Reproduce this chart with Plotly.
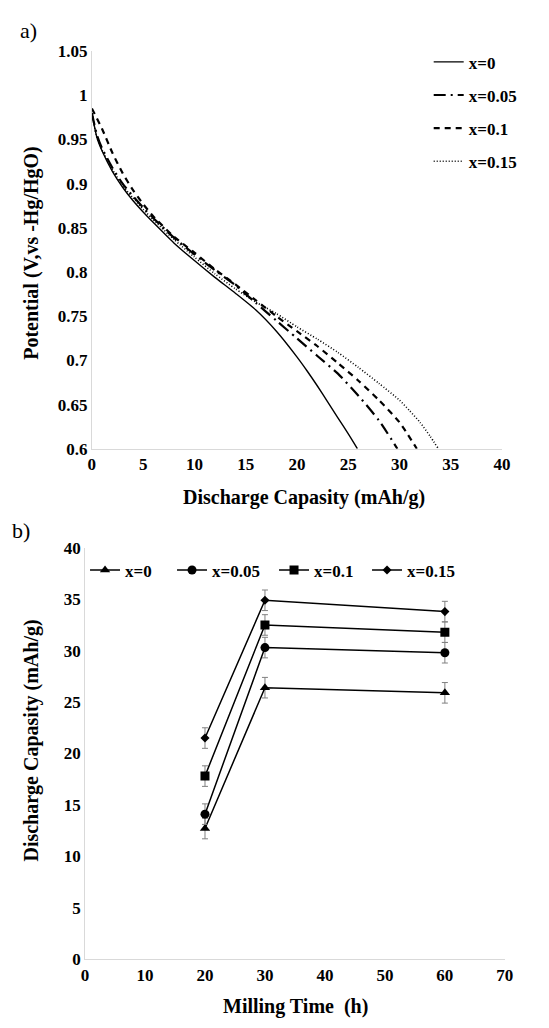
import plotly.graph_objects as go

# ---------- Panel a data: discharge curves ----------
cap_x0 = [0, 0.5, 1, 2, 3, 4, 5, 6, 8, 10, 12, 14, 16, 18, 20, 21, 22, 23, 24, 25, 25.9]
pot_x0 = [0.98, 0.952, 0.937, 0.914, 0.896, 0.881, 0.868, 0.856, 0.833, 0.813, 0.794, 0.776, 0.757, 0.733, 0.704, 0.688, 0.671, 0.653, 0.635, 0.617, 0.6]

cap_x005 = [0, 0.5, 1, 2, 3, 4, 5, 6, 8, 10, 12, 14, 16, 18, 20, 22, 24, 26, 28, 29.8]
pot_x005 = [0.98, 0.955, 0.94, 0.918, 0.9, 0.886, 0.873, 0.861, 0.839, 0.82, 0.802, 0.785, 0.765, 0.745, 0.725, 0.705, 0.685, 0.66, 0.632, 0.6]

cap_x01 = [0, 1, 2, 3, 4, 5, 6, 8, 10, 12, 14, 16, 18, 20, 22, 24, 26, 28, 30, 31.7]
pot_x01 = [0.985, 0.962, 0.935, 0.912, 0.893, 0.877, 0.863, 0.84, 0.822, 0.803, 0.786, 0.768, 0.75, 0.733, 0.716, 0.697, 0.677, 0.655, 0.63, 0.6]

cap_x015 = [0, 0.5, 1, 2, 3, 4, 5, 6, 8, 10, 12, 14, 16, 18, 20, 22, 24, 26, 28, 30, 31, 32, 33, 33.8]
pot_x015 = [0.98, 0.952, 0.938, 0.916, 0.898, 0.884, 0.871, 0.859, 0.837, 0.817, 0.798, 0.781, 0.766, 0.753, 0.738, 0.724, 0.709, 0.692, 0.674, 0.655, 0.643, 0.63, 0.614, 0.6]

# ---------- Panel b data: capacity vs milling time ----------
milling_time = [20, 30, 60]
cap_b_x0 = [12.7, 26.4, 25.9]
cap_b_x005 = [14.1, 30.3, 29.8]
cap_b_x01 = [17.8, 32.5, 31.8]
cap_b_x015 = [21.5, 34.9, 33.8]
err_b = [1.0, 1.0, 1.0]

labels = ["x=0", "x=0.05", "x=0.1", "x=0.15"]

FONT = "Liberation Serif, Times New Roman, serif"
W, H = 549, 1028

fig = go.Figure()

# panel a traces
styles_a = [
    (cap_x0, pot_x0, "solid", 1.4),
    (cap_x005, pot_x005, "12px,5px,2px,5px", 2.2),
    (cap_x01, pot_x01, "6px,5px", 2.2),
    (cap_x015, pot_x015, "1px,2px", 1.6),
]
for i, (xs, ys, dash, w) in enumerate(styles_a):
    fig.add_trace(go.Scatter(
        x=xs, y=ys, mode="lines", name=labels[i],
        line=dict(color="black", width=w, dash=dash, shape="spline", smoothing=0.6),
        xaxis="x", yaxis="y", legend="legend", legendgroup="a%d" % i,
    ))

# panel b traces
series_b = [cap_b_x0, cap_b_x005, cap_b_x01, cap_b_x015]
symbols = ["triangle-up", "circle", "square", "diamond"]
msizes = [9, 9, 9, 7]
lwidths = [42, 57, 48, 55]
for i, ys in enumerate(series_b):
    fig.add_trace(go.Scatter(
        x=milling_time, y=ys, mode="lines+markers", name=labels[i],
        line=dict(color="black", width=1.5),
        marker=dict(symbol=symbols[i], size=msizes[i], color="black"),
        error_y=dict(type="data", array=err_b, color="#808080", thickness=1, width=3),
        xaxis="x2", yaxis="y2", legend="legend2", legendwidth=lwidths[i],
    ))

axis_common = dict(
    showgrid=False, zeroline=False, showline=True, linecolor="#d9d9d9", linewidth=1,
    ticks="", tickfont=dict(family=FONT, size=17, color="black", weight="bold"),
)

x_a0, x_a1 = 90 / W, 510 / W
y_a0, y_a1 = 1 - 448 / H, 1 - 43 / H
x_b0, x_b1 = 83 / W, 513 / W
y_b0, y_b1 = 1 - 968 / H, 1 - 549 / H

fig.update_layout(
    width=W, height=H,
    margin=dict(l=0, r=0, t=0, b=0),
    paper_bgcolor="white", plot_bgcolor="white",
    font=dict(family=FONT, color="black"),
    xaxis=dict(domain=[x_a0, x_a1], range=[0, 40], dtick=5, anchor="y", **axis_common),
    yaxis=dict(domain=[y_a0, y_a1], range=[0.6, 1.05], dtick=0.05, anchor="x",
               tickformat="~g", **axis_common),
    xaxis2=dict(domain=[x_b0, x_b1], range=[0, 70], dtick=10, anchor="y2", **axis_common),
    yaxis2=dict(domain=[y_b0, y_b1], range=[0, 40], dtick=5, anchor="x2", **axis_common),
    legend=dict(
        x=435 / W, y=1 - 36 / H, xanchor="left", yanchor="top",
        orientation="v", tracegroupgap=8, bgcolor="rgba(0,0,0,0)",
        font=dict(family=FONT, size=17, color="black", weight="bold"),
    ),
    legend2=dict(
        x=83 / W, y=1 - 572 / H, xanchor="left", yanchor="middle",
        orientation="h", bgcolor="rgba(0,0,0,0)",
        font=dict(family=FONT, size=17, color="black", weight="bold"),
    ),
    showlegend=True,
)

ann = [
    dict(text="a)", x=25 / W, y=1 - 22 / H, font=dict(size=22)),
    dict(text="b)", x=17 / W, y=1 - 531 / H, font=dict(size=22)),
    dict(text="<b>Discharge Capasity (mAh/g)</b>", x=307 / W, y=1 - 498 / H, font=dict(size=20)),
    dict(text="<b>Potential (V,vs -Hg/HgO)</b>", x=28 / W, y=1 - 248 / H, font=dict(size=20), textangle=-90),
    dict(text="<b>Discharge Capasity (mAh/g)</b>", x=28 / W, y=1 - 745 / H, font=dict(size=20), textangle=-90),
    dict(text="<b>Milling Time  (h)</b>", x=299 / W, y=1 - 1016 / H, font=dict(size=20)),
]
for a in ann:
    f = a.pop("font")
    fig.add_annotation(xref="paper", yref="paper", showarrow=False,
                       xanchor="center", yanchor="middle",
                       font=dict(family=FONT, color="black", **f), **a)

fig.write_html("out.html")
